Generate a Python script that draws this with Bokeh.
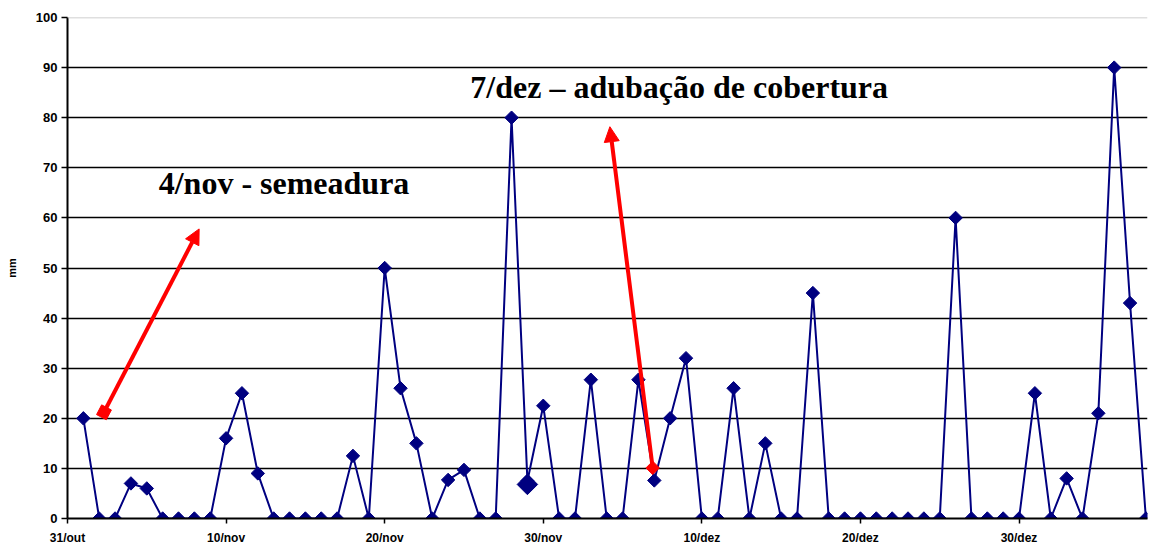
import math
from bokeh.plotting import figure
from bokeh.models import (ColumnDataSource, Range1d, FixedTicker, Arrow, NormalHead, Span)
from bokeh.core.properties import value
from bokeh.embed import file_html
from bokeh.resources import INLINE

# ---- data ----
day_index = list(range(1, 69))  # day 0 = 31/out
rain_mm = [20, 0, 0, 7, 6, 0, 0, 0, 0, 16,
           25, 9, 0, 0, 0, 0, 0, 12.5, 0, 50,
           26, 15, 0, 7.7, 9.7, 0, 0, 80, 7.5, 22.5,
           0, 0, 27.7, 0, 0, 27.7, 7.6, 20, 32, 0,
           0, 26, 0, 15, 0, 0, 45, 0, 0, 0,
           0, 0, 0, 0, 0, 60, 0, 0, 0, 0,
           25, 0, 8, 0, 21, 90, 43, 0]
highlight_day = [29]
highlight_mm = [6.8]

tick_days = [0, 10, 20, 30, 40, 50, 60]
tick_labels = ["31/out", "10/nov", "20/nov", "30/nov", "10/dez", "20/dez", "30/dez"]
y_ticks = [0, 10, 20, 30, 40, 50, 60, 70, 80, 90, 100]

ann_texts = ["4/nov - semeadura", "7/dez \u2013 adubação de cobertura"]
ann_x = [5.75, 25.4]
ann_y = [66.9, 86.1]

arrow1_start = (2.3, 21.2)
arrow1_end = (8.3, 57.8)
arrow2_start = (36.9, 10.1)
arrow2_end = (34.2, 78.2)

NAVY = "#000080"
RED = "#ff0000"

p = figure(width=1154, height=547, output_backend="svg", toolbar_location=None,
           x_range=Range1d(0, 68.1), y_range=Range1d(0, 100),
           min_border_left=67, min_border_right=7, min_border_top=17, min_border_bottom=29)
p.outline_line_color = None
p.background_fill_color = "white"
p.border_fill_color = "white"

# grid
p.xgrid.visible = False
p.ygrid.ticker = FixedTicker(ticks=[10, 20, 30, 40, 50, 60, 70, 80, 90])
p.ygrid.grid_line_color = "#000000"
p.ygrid.grid_line_width = 1.6
p.add_layout(Span(location=100, dimension="width", line_color="#c0c0c0", line_width=1.5))

# axes
p.yaxis.ticker = FixedTicker(ticks=y_ticks)
p.yaxis.axis_line_width = 2
p.yaxis.axis_line_color = "black"
p.yaxis.major_tick_out = 6
p.yaxis.major_tick_in = 0
p.yaxis.major_tick_line_width = 1.5
p.yaxis.minor_tick_line_color = None
p.yaxis.major_label_text_font = "Liberation Sans"
p.yaxis.major_label_text_font_style = "bold"
p.yaxis.major_label_text_font_size = "13px"
p.yaxis.major_label_text_color = "black"
p.yaxis.major_label_standoff = 4
p.yaxis.axis_label = "mm"
p.yaxis.axis_label_text_font = "Liberation Sans"
p.yaxis.axis_label_text_font_style = "bold"
p.yaxis.axis_label_text_font_size = "11px"
p.yaxis.axis_label_text_color = "black"
p.yaxis.axis_label_standoff = 15

p.xaxis.ticker = FixedTicker(ticks=tick_days)
p.xaxis.major_label_overrides = {d: l for d, l in zip(tick_days, tick_labels)}
p.xaxis.axis_line_width = 2
p.xaxis.axis_line_color = "black"
p.xaxis.major_tick_out = 5
p.xaxis.major_tick_in = 0
p.xaxis.major_tick_line_width = 1.5
p.xaxis.minor_tick_line_color = None
p.xaxis.major_label_text_font = "Liberation Sans"
p.xaxis.major_label_text_font_style = "bold"
p.xaxis.major_label_text_font_size = "12px"
p.xaxis.major_label_text_color = "black"
p.xaxis.major_label_standoff = 7

# series
src = ColumnDataSource(dict(x=day_index, y=rain_mm))
p.line("x", "y", source=src, line_color=NAVY, line_width=2)
p.scatter("x", "y", source=src, marker="square", angle=math.pi / 4, size=9.5,
          fill_color=NAVY, line_color=NAVY)
p.scatter(highlight_day, highlight_mm, marker="square", angle=math.pi / 4, size=14.5,
          fill_color=NAVY, line_color=NAVY)

# arrows
for (sx, sy), (ex, ey) in [(arrow1_start, arrow1_end), (arrow2_start, arrow2_end)]:
    p.add_layout(Arrow(end=NormalHead(size=15, fill_color=RED, line_color=RED),
                       x_start=sx, y_start=sy, x_end=ex, y_end=ey,
                       line_color=RED, line_width=4))
p.scatter([arrow1_start[0]], [arrow1_start[1]], marker="square", angle=1.09, size=11,
          fill_color=RED, line_color=RED)
p.scatter([arrow2_start[0]], [arrow2_start[1]], marker="square", angle=math.pi / 4, size=9.5,
          fill_color=RED, line_color=RED)

# annotation texts
p.text(x=ann_x, y=ann_y, text=ann_texts, text_font=value("Liberation Serif"),
       text_font_style="bold", text_font_size="32px", text_color="black",
       text_baseline="alphabetic", text_align="left")

open("out.html", "w").write(file_html(p, INLINE))
